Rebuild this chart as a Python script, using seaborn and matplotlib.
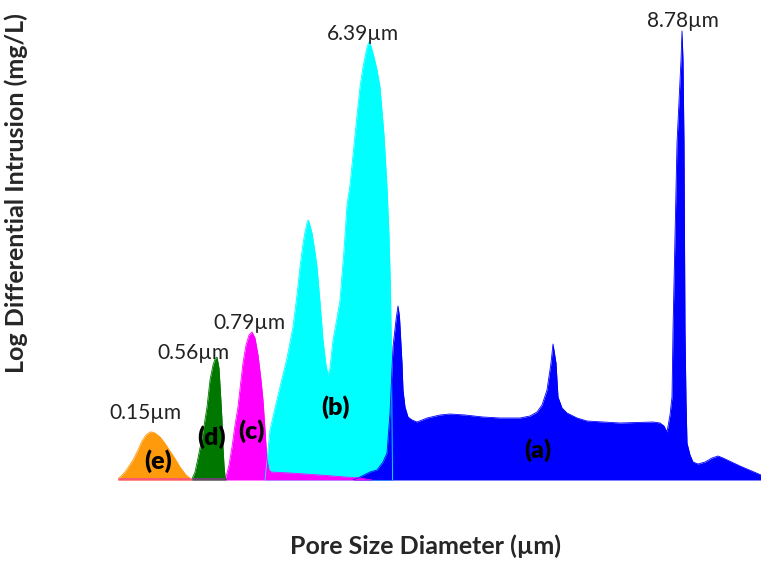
import numpy as np
import pandas as pd
import matplotlib
matplotlib.use("Agg")
import matplotlib.pyplot as plt
import seaborn as sns

# ---- data (x = pore-size position on the plot's horizontal scale, y = intrusion height) ----
e_x = [118, 125, 133, 138, 142, 146, 150, 152, 155, 160, 164, 168, 174, 180, 186, 191]
e_y = [1, 8, 20, 30, 39, 45, 48, 48, 47, 43, 38, 32, 23, 13, 5, 1]

d_x = [192, 195, 198, 201, 204, 207, 210, 213, 215, 217, 219, 220, 221, 222, 223, 224, 225, 226]
d_y = [1, 8, 22, 37, 54, 73, 100, 115, 121, 123, 112, 95, 78, 60, 33, 15, 4, 0]

c_x = [118, 150, 190, 224, 226, 229, 232, 235, 238, 241, 243, 246, 249, 252, 255, 258, 261, 263,
       265, 267, 269, 271, 290, 320, 345, 360, 372]
c_y = [1, 1, 1, 1, 3, 15, 33, 55, 73, 100, 117, 135, 145, 148, 142, 125, 100, 80,
       50, 20, 10, 8, 7, 5, 3, 2, 0]

b_x = [265, 267, 270, 275, 280, 287, 293, 297, 300, 303, 305, 307, 308, 309, 312, 315, 317, 320,
       323, 326, 328, 330, 333, 337, 340, 344, 347, 350, 355, 360, 363, 365, 367, 369, 371, 374,
       377, 380, 384, 387, 389, 390.5, 391.5, 392.5]
b_y = [0, 20, 50, 72, 93, 122, 153, 185, 213, 236, 248, 257, 260, 258, 247, 228, 213, 178,
       140, 115, 105, 112, 140, 162, 180, 230, 275, 295, 345, 393, 413, 423, 433, 438, 434, 423,
       410, 393, 345, 293, 245, 190, 120, 0]

a_x = [353, 360, 370, 377, 383, 387, 390, 393, 396, 398, 399.5, 402, 403, 405, 408, 412, 417, 427,
       440, 450, 465, 483, 500, 520, 530, 537, 542, 547, 551, 553, 556, 558, 562, 567, 577, 587,
       620, 653, 660, 664, 667, 670, 672, 673, 677, 681, 682, 683, 684, 685, 686, 687, 690, 693,
       698, 705, 712, 718, 723, 740, 761]
a_y = [0, 3, 8, 10, 18, 27, 67, 133, 160, 174, 163, 117, 90, 73, 63, 60, 58, 62,
       65, 66, 65, 63, 62, 62, 64, 68, 75, 90, 117, 136, 117, 83, 72, 67, 62, 59,
       57, 58, 57, 54, 48, 65, 83, 150, 337, 420, 449, 420, 337, 150, 80, 37, 25, 18,
       16, 18, 22, 24, 22, 14, 5]

series = [
    ("b", b_x, b_y, "#00FFFF"),
    ("a", a_x, a_y, "#0000FF"),
    ("c", c_x, c_y, "#FF00FF"),
    ("d", d_x, d_y, "#007800"),
    ("e", e_x, e_y, "#FF9A0C"),
]

peak_labels = ["0.15\u00b5m", "0.56\u00b5m", "0.79\u00b5m", "6.39\u00b5m", "8.78\u00b5m"]
peak_pos = [(145, 67), (193, 127), (249, 157), (363, 446), (683, 459)]
curve_labels = ["(e)", "(d)", "(c)", "(b)", "(a)"]
curve_pos = [(158, 19), (212, 43), (251, 49), (336, 73), (538, 30)]

sns.set_theme(style="white")
plt.rcParams["font.family"] = ["Lato", "DejaVu Sans"]

fig = plt.figure(figsize=(7.61, 5.62), dpi=100)
ax = fig.add_axes([118 / 761, 82 / 562, 643 / 761, 460 / 562])

for name, xs, ys, col in series:
    df = pd.DataFrame({"x": xs, "y": ys})
    ax.fill_between(df["x"], 0, df["y"], color=col, linewidth=0)
    sns.lineplot(data=df, x="x", y="y", color=col, ax=ax, linewidth=0.6, sort=False)

for txt, (x, y) in zip(peak_labels, peak_pos):
    ax.text(x, y, txt, ha="center", va="center", fontsize=15, color="#222222")
for txt, (x, y) in zip(curve_labels, curve_pos):
    ax.text(x, y, txt, ha="center", va="center", fontsize=18, fontweight="heavy", color="black")

ax.set_xlim(118, 761)
ax.set_ylim(0, 460)
ax.set_xticks([])
ax.set_yticks([])
sns.despine(ax=ax, left=True, bottom=True)
ax.set_xlabel("Pore Size Diameter (\u00b5m)", fontsize=18, fontweight="bold")
ax.set_ylabel("Log Differential Intrusion (mg/L)", fontsize=18, fontweight="bold")
ax.xaxis.set_label_coords(0.479, -0.118)
ax.yaxis.set_label_coords(-0.14, 0.624)

fig.savefig("out.png", dpi=100)
